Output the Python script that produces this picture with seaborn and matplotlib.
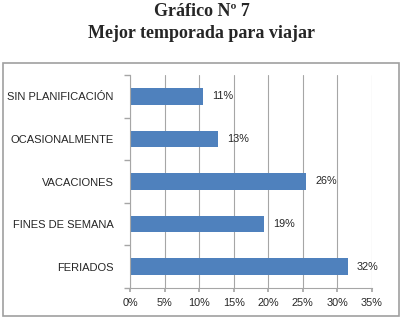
import matplotlib
matplotlib.use("Agg")
import matplotlib.pyplot as plt
import seaborn as sns
import pandas as pd
from matplotlib.patches import Rectangle

categories = ["SIN PLANIFICACIÓN", "OCASIONALMENTE", "VACACIONES", "FINES DE SEMANA", "FERIADOS"]
values = [0.106, 0.127, 0.255, 0.194, 0.315]
value_labels = ["11%", "13%", "26%", "19%", "32%"]
xticks = [0, 0.05, 0.10, 0.15, 0.20, 0.25, 0.30, 0.35]
xtick_labels = ["0%", "5%", "10%", "15%", "20%", "25%", "30%", "35%"]

sns.set_theme(style="white")
plt.rcParams['font.family'] = ['Liberation Sans', 'DejaVu Sans']

df = pd.DataFrame({"cat": categories, "val": values})

fig = plt.figure(figsize=(4.03, 3.21), dpi=100)
ax = fig.add_axes([130/403, 1-288/321, 242/403, 213/321])

sns.barplot(data=df, x="val", y="cat", orient="h", color="#4F81BD",
            saturation=1, width=0.39, linewidth=0, ax=ax)

ax.set_xlim(0, 0.35)
ax.set_ylim(4.5, -0.5)
ax.set_xticks(xticks)
ax.set_xticklabels(xtick_labels, fontsize=7.8, color="#262626")
ax.set_yticks(range(len(categories)))
ax.set_yticklabels(categories, fontsize=8, color="#262626")
ax.set_xlabel("")
ax.set_ylabel("")
ax.grid(axis="x", color="#A6A6A6", linewidth=0.8)
ax.set_axisbelow(True)
for s in ["top", "right"]:
    ax.spines[s].set_visible(False)
for s in ["left", "bottom"]:
    ax.spines[s].set_color("#A6A6A6")
    ax.spines[s].set_linewidth(0.8)
ax.tick_params(axis="y", length=0, pad=12)
ax.tick_params(axis="x", length=3, color="#A6A6A6", pad=4, direction="out", bottom=True)
ax.set_yticks([i + 0.5 for i in range(-1, len(categories))], minor=True)
ax.tick_params(axis="y", which="minor", length=4, color="#A6A6A6", left=True)

for i, (v, lab) in enumerate(zip(values, value_labels)):
    ax.text(v + 0.013, i, lab, va="center", ha="left", fontsize=7.8, color="#262626")

fig.patches.append(Rectangle((3/403, 1-316/321), 396/403, 253/321, transform=fig.transFigure,
                             fill=False, edgecolor="#A0A0A0", linewidth=1.2))

fig.text(0.5, 1-12/321, "Gráfico Nº 7", ha="center", va="center", fontsize=13,
         fontweight="bold", family="Liberation Serif")
fig.text(0.5, 1-33/321, "Mejor temporada para viajar", ha="center", va="center", fontsize=13,
         fontweight="bold", family="Liberation Serif")

fig.savefig("out.png", dpi=100)
